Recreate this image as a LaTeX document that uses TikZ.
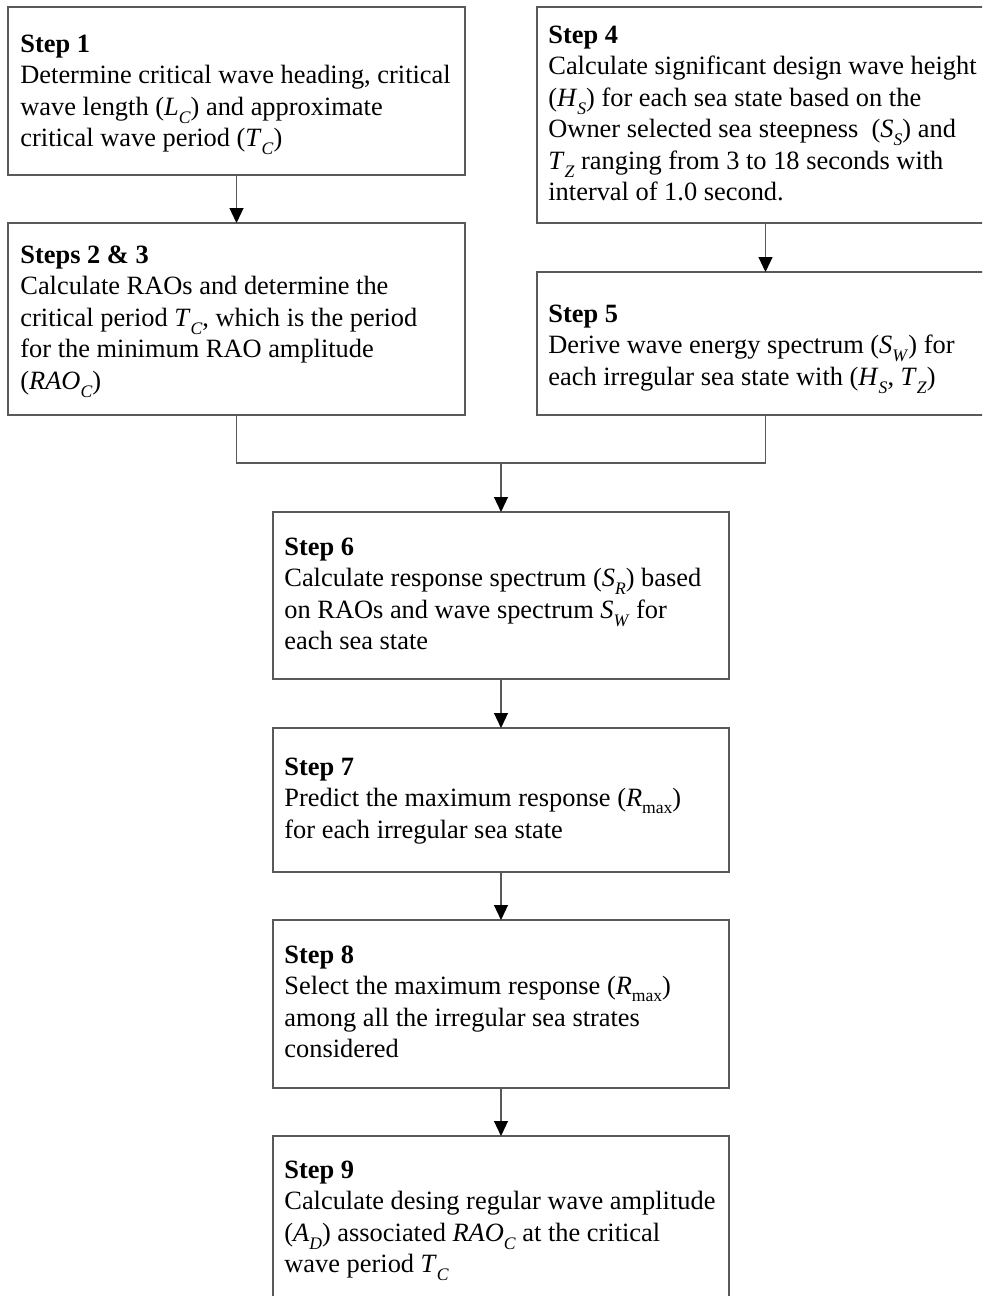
\documentclass[tikz,border=0pt]{standalone}
\usepackage{fontspec}
\setmainfont{Liberation Serif}
\usetikzlibrary{positioning,arrows.meta}

\newcommand{\ssub}[2]{\textit{#1}\raisebox{-4pt}{\fontsize{8.8}{8.8}\selectfont\textit{#2}}}
\newcommand{\rmax}{\textit{R}\raisebox{-3.5pt}{\fontsize{8.8}{8.8}\selectfont max}}

\tikzset{
  stepbox/.style={draw=black!65, line width=0.6pt, minimum width=228.5pt, inner sep=0pt, outer sep=0pt},
  steptext/.style={inner sep=0pt, align=left, font=\fontsize{13.2}{15.75}\selectfont},
  link/.style={draw=black!65, line width=0.6pt},
  flow/.style={link, -{Triangle[width=7pt,length=7.5pt,black]}},
}

\begin{document}
\begin{tikzpicture}[x=1pt,y=1pt]
  \useasboundingbox (0,0) rectangle (491,-648);
  \clip (0,0) rectangle (491,-648);

  % left column
  \node[stepbox, minimum height=84pt] (s1) at (118.25,-45.5) {};
  \node[stepbox, minimum height=96pt, below=24pt of s1] (s23) {};
  % right column
  \node[stepbox, minimum height=108pt] (s4) at (382.75,-57.5) {};
  \node[stepbox, minimum height=71.5pt, below=24.5pt of s4] (s5) {};
  % middle column
  \node[stepbox, minimum width=228pt, minimum height=83.5pt] (s6) at (250.5,-297.75) {};
  \node[stepbox, minimum width=228pt, minimum height=72pt, below=24.5pt of s6] (s7) {};
  \node[stepbox, minimum width=228pt, minimum height=84pt, below=24pt of s7] (s8) {};
  \node[stepbox, minimum width=228pt, minimum height=100pt, below=24pt of s8] (s9) {};

  % texts
  \node[steptext, below right=11.5pt and 6pt of s1.north west] (t1) {\strut\textbf{Step 1}\\
    Determine critical wave heading, critical\\
    wave length (\ssub{L}{C}) and approximate\\
    critical wave period (\ssub{T}{C})};
  \node[steptext, below right=9pt and 6pt of s23.north west] (t23) {\strut\textbf{Steps 2 \& 3}\\
    Calculate RAOs and determine the\\
    critical period \ssub{T}{C}, which is the period\\
    for the minimum RAO amplitude\\
    (\ssub{RAO}{C})};
  \node[steptext, below right=7pt and 5.5pt of s4.north west] (t4) {\strut\textbf{Step 4}\\
    Calculate significant design wave height\\
    (\ssub{H}{S}) for each sea state based on the\\
    Owner selected sea steepness\ \ (\ssub{S}{S}) and\\
    \ssub{T}{Z} ranging from 3 to 18 seconds with\\
    interval of 1.0 second.};
  \node[steptext, below right=14pt and 5.5pt of s5.north west] (t5) {\strut\textbf{Step 5}\\
    Derive wave energy spectrum (\ssub{S}{W}) for\\
    each irregular sea state with (\ssub{H}{S}, \ssub{T}{Z})};
  \node[steptext, below right=10.5pt and 5.5pt of s6.north west] (t6) {\strut\textbf{Step 6}\\
    Calculate response spectrum (\ssub{S}{R}) based\\
    on RAOs and wave spectrum \ssub{S}{W} for\\
    each sea state};
  \node[steptext, below right=12.5pt and 5.5pt of s7.north west] (t7) {\strut\textbf{Step 7}\\
    Predict the maximum response (\rmax)\\
    for each irregular sea state};
  \node[steptext, below right=10.5pt and 5.5pt of s8.north west] (t8) {\strut\textbf{Step 8}\\
    Select the maximum response (\rmax)\\
    among all the irregular sea strates\\
    considered};
  \node[steptext, below right=10pt and 5.5pt of s9.north west] (t9) {\strut\textbf{Step 9}\\
    Calculate desing regular wave amplitude\\
    (\ssub{A}{D}) associated \ssub{RAO}{C} at the critical\\
    wave period \ssub{T}{C}};

  % connectors
  \coordinate (join) at (250.5,-231.5);
  \draw[flow] (s1) -- (s23);
  \draw[flow] (s4) -- (s5);
  \draw[link] (s23.south) |- (join) -| (s5.south);
  \draw[flow] (join) -- (s6.north);
  \draw[flow] (s6) -- (s7);
  \draw[flow] (s7) -- (s8);
  \draw[flow] (s8) -- (s9);
\end{tikzpicture}
\end{document}
